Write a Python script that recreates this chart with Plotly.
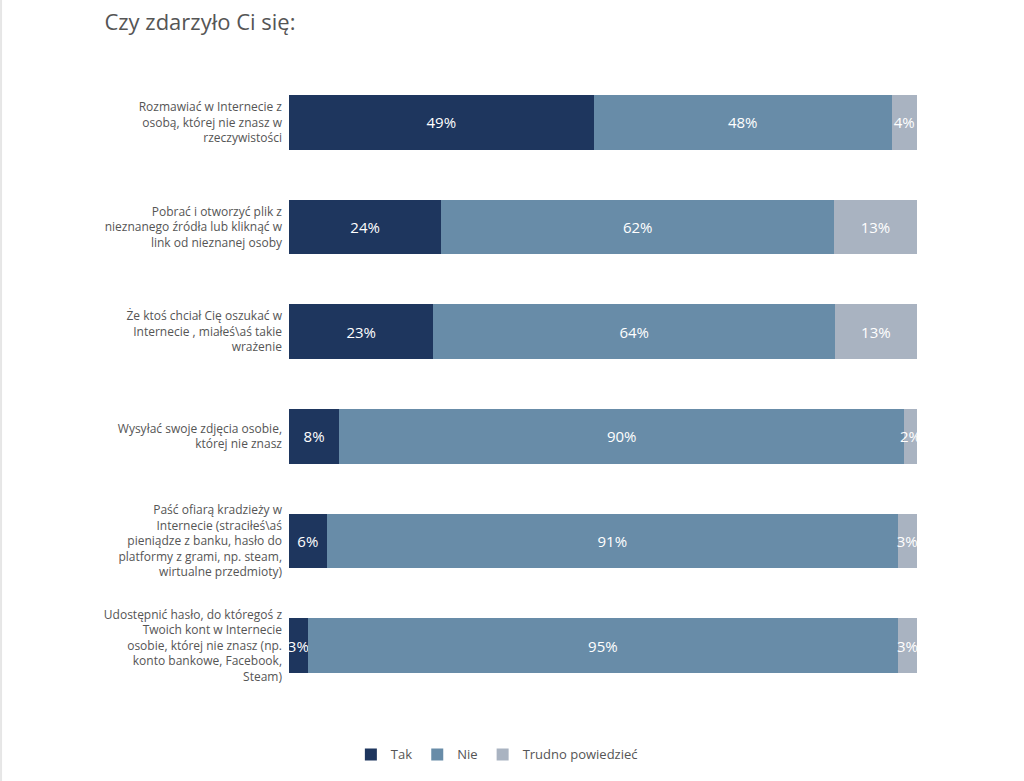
import plotly.graph_objects as go

categories = [
    "Rozmawiać w Internecie z<br>osobą, której nie znasz w<br>rzeczywistości",
    "Pobrać i otworzyć plik z<br>nieznanego źródła lub kliknąć w<br>link od nieznanej osoby",
    "Że ktoś chciał Cię oszukać w<br>Internecie , miałeś\\aś takie<br>wrażenie",
    "Wysyłać swoje zdjęcia osobie,<br>której nie znasz",
    "Paść ofiarą kradzieży w<br>Internecie (straciłeś\\aś<br>pieniądze z banku, hasło do<br>platformy z grami, np. steam,<br>wirtualne przedmioty)",
    "Udostępnić hasło, do któregoś z<br>Twoich kont w Internecie<br>osobie, której nie znasz (np.<br>konto bankowe, Facebook,<br>Steam)",
]
tak = [49, 24, 23, 8, 6, 3]
nie = [48, 62, 64, 90, 91, 95]
trudno = [4, 13, 13, 2, 3, 3]

series = [
    ("Tak", tak, "#1e365e"),
    ("Nie", nie, "#688ca8"),
    ("Trudno powiedzieć", trudno, "#a9b3c1"),
]

fig = go.Figure()
for name, vals, color in series:
    fig.add_trace(go.Bar(
        y=categories, x=vals, name=name, orientation="h",
        marker=dict(color=color, line=dict(width=0)),
        text=[f"{v}%" for v in vals], textposition="inside",
        insidetextanchor="middle", textangle=0, constraintext="none",
        textfont=dict(color="white", size=15, family="Open Sans"),
        cliponaxis=False,
    ))

fig.update_layout(
    barmode="stack", barnorm="percent", bargap=0.475,
    width=1024, height=781,
    margin=dict(l=289, r=107, t=70, b=83),
    paper_bgcolor="white", plot_bgcolor="white",
    font=dict(family="Open Sans", color="#555555", size=12),
    title=dict(text="Czy zdarzyło Ci się:", x=0.102, xanchor="left", y=0.972, yanchor="middle",
               font=dict(size=22, color="#555555", family="Open Sans")),
    legend=dict(orientation="h", x=0.331, xanchor="center", y=-0.066, yanchor="top",
                font=dict(size=13, color="#555555"), traceorder="normal",
                itemwidth=30, entrywidth=0),
    xaxis=dict(visible=False, range=[0, 100.05]),
    yaxis=dict(autorange="reversed", showgrid=False, zeroline=False, showline=False,
               ticks="", ticklabelstandoff=6, tickfont=dict(size=12, color="#555555")),
    shapes=[dict(type="line", xref="paper", yref="paper", x0=-0.4585, x1=-0.4585,
                 y0=-0.2, y1=1.2, line=dict(color="#e6e6e6", width=2))],
)

fig.write_html("out.html")
